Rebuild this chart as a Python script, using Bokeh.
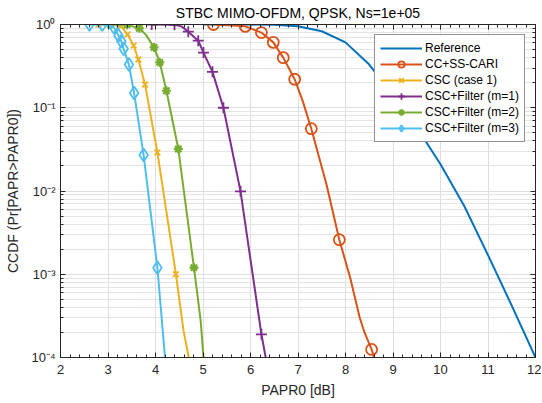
from bokeh.plotting import figure
from bokeh.models import (Range1d, LinearAxis, LogAxis, SingleIntervalTicker, LogTicker,
                          CustomJSTickFormatter)
from bokeh.embed import file_html
from bokeh.resources import INLINE

# ---------------- data ----------------
labels = ["Reference", "CC+SS-CARI", "CSC (case 1)",
          "CSC+Filter (m=1)", "CSC+Filter (m=2)", "CSC+Filter (m=3)"]

# Reference (no markers)
ref_x = [5.0, 5.5, 6.0, 6.5, 7.0, 7.5, 8.0, 8.5, 9.0, 9.5, 10.0, 10.5, 11.0, 11.5, 12.0]
ref_p = [1.0, 1.0, 0.998, 0.99, 0.95, 0.83, 0.61, 0.33, 0.14, 0.058, 0.021, 0.0066, 0.0017, 4.2e-4, 1e-4]

# CC+SS-CARI
cari_x = [5.22, 5.89, 6.23, 6.48, 6.69, 6.93, 7.1, 7.28, 7.6, 7.87, 8.1, 8.3, 8.4, 8.55, 8.6]
cari_p = [1.0, 0.95, 0.80, 0.61, 0.40, 0.22, 0.12, 0.056, 0.012, 0.0026, 9e-4, 3e-4, 2e-4, 1.25e-4, 1e-4]
cari_mx = [5.22, 5.89, 6.23, 6.48, 6.69, 6.93, 7.28, 7.87, 8.55]
cari_mp = [1.0, 0.95, 0.80, 0.61, 0.40, 0.22, 0.056, 0.0026, 1.25e-4]

# CSC (case 1)
csc_x = [2.80, 3.10, 3.28, 3.41, 3.54, 3.64, 3.78, 4.04, 4.43, 4.59, 4.70]
csc_p = [1.0, 0.995, 0.95, 0.76, 0.56, 0.38, 0.19, 0.029, 0.0010, 2.1e-4, 1e-4]
csc_mx = [2.80, 3.28, 3.41, 3.54, 3.64, 3.78, 4.04, 4.43]
csc_mp = [1.0, 0.95, 0.76, 0.56, 0.38, 0.19, 0.029, 0.0010]

# CSC+Filter (m=1)
m1_x = [3.92, 4.40, 4.55, 4.69, 4.90, 5.01, 5.20, 5.43, 5.79, 6.23, 6.32]
m1_p = [1.0, 0.99, 0.95, 0.82, 0.64, 0.46, 0.27, 0.10, 0.0099, 1.9e-4, 1e-4]
m1_mx = [3.92, 4.40, 4.69, 4.90, 5.01, 5.20, 5.43, 5.79, 6.23]
m1_mp = [1.0, 0.99, 0.82, 0.64, 0.46, 0.27, 0.10, 0.0099, 1.9e-4]

# CSC+Filter (m=2)
m2_x = [3.05, 3.40, 3.66, 3.80, 3.97, 4.09, 4.23, 4.48, 4.81, 4.95, 5.01]
m2_p = [1.0, 0.99, 0.90, 0.75, 0.53, 0.35, 0.16, 0.032, 0.0012, 2.8e-4, 1e-4]
m2_mx = [3.05, 3.40, 3.66, 3.97, 4.09, 4.23, 4.48, 4.81]
m2_mp = [1.0, 0.99, 0.90, 0.53, 0.35, 0.16, 0.032, 0.0012]

# CSC+Filter (m=3)
m3_x = [2.61, 2.88, 3.12, 3.22, 3.28, 3.33, 3.44, 3.55, 3.75, 4.04, 4.20]
m3_p = [1.0, 1.0, 0.93, 0.74, 0.63, 0.51, 0.33, 0.15, 0.027, 0.0012, 1e-4]
m3_mx = [2.61, 2.88, 3.12, 3.22, 3.28, 3.33, 3.44, 3.55, 3.75, 4.04]
m3_mp = [1.0, 1.0, 0.93, 0.74, 0.63, 0.51, 0.33, 0.15, 0.027, 0.0012]

title_text = "STBC MIMO-OFDM, QPSK, Ns=1e+05"
xlabel = "PAPR0 [dB]"
ylabel = "CCDF (Pr[PAPR>PAPR0])"

colors = ["#0072BD", "#D95319", "#EDB120", "#7E2F8E", "#77AC30", "#4DBEEE"]
FONT = "Liberation Sans"
AX = "#262626"

# ---------------- figure ----------------
p = figure(frame_width=475, frame_height=333,
           x_range=Range1d(2, 12), y_range=Range1d(1e-4, 1),
           y_axis_type="log", output_backend="svg", toolbar_location=None,
           min_border_left=60, min_border_top=24, min_border_right=6, min_border_bottom=45,
           background_fill_color="white", border_fill_color="white")
p.outline_line_color = AX
p.outline_line_width = 1

p.title.text = title_text
p.title.align = "center"
p.title.text_font = FONT
p.title.text_font_size = "14px"
p.title.text_font_style = "normal"
p.title.text_color = "black"
p.title.standoff = 0

xt = SingleIntervalTicker(interval=1, num_minor_ticks=5)
yt = LogTicker(mantissas=[1], desired_num_ticks=5, num_minor_ticks=10)
p.xaxis.ticker = xt
p.yaxis.ticker = yt

sup_code = """
const sup = {'-':'\u207b','0':'\u2070','1':'\u00b9','2':'\u00b2','3':'\u00b3','4':'\u2074',
             '5':'\u2075','6':'\u2076','7':'\u2077','8':'\u2078','9':'\u2079'};
const e = Math.round(Math.log10(tick));
return '10' + String(e).split('').map(c => sup[c]).join('');
"""
p.yaxis.formatter = CustomJSTickFormatter(code=sup_code)

for ax in [p.xaxis[0], p.yaxis[0]]:
    ax.axis_line_color = AX
    ax.major_tick_line_color = AX
    ax.minor_tick_line_color = AX
    ax.major_tick_in = 5
    ax.major_tick_out = 0
    ax.minor_tick_in = 3
    ax.minor_tick_out = 0
    ax.major_label_text_font = FONT
    ax.major_label_text_font_size = "13px"
    ax.major_label_text_color = AX
    ax.axis_label_text_font = FONT
    ax.axis_label_text_font_size = "14px"
    ax.axis_label_text_font_style = "normal"
    ax.axis_label_text_color = AX

p.xaxis.axis_label = xlabel
p.yaxis.axis_label = ylabel
p.xaxis.major_label_standoff = 7
p.xaxis.axis_label_standoff = 5
p.yaxis.major_label_standoff = 5
p.yaxis.axis_label_standoff = 7

# box axes (top / right) with inward ticks, no labels
blank = CustomJSTickFormatter(code="return ' ';")
top = LinearAxis(ticker=xt, formatter=blank)
right = LogAxis(ticker=yt, formatter=blank)
for ax in [top, right]:
    ax.axis_line_color = AX
    ax.major_tick_line_color = AX
    ax.minor_tick_line_color = AX
    ax.major_tick_in = 5
    ax.major_tick_out = 0
    ax.minor_tick_in = 3
    ax.minor_tick_out = 0
    ax.major_label_text_font_size = "1px"
    ax.major_label_standoff = 0
p.add_layout(top, "above")
p.add_layout(right, "right")

# grid
p.xgrid.grid_line_color = "#dedede"
p.ygrid.grid_line_color = "#dedede"
p.ygrid.minor_grid_line_color = "#e4e4e4"

# ---------------- series ----------------
LW = 2
p.line(ref_x, ref_p, line_color=colors[0], line_width=LW, legend_label=labels[0])

p.line(cari_x, cari_p, line_color=colors[1], line_width=LW, legend_label=labels[1])
p.scatter(cari_mx, cari_mp, marker="circle", size=11, fill_color=None,
          line_color=colors[1], line_width=1.8, legend_label=labels[1])

p.line(csc_x, csc_p, line_color=colors[2], line_width=LW, legend_label=labels[2])
p.scatter(csc_mx, csc_mp, marker="x", size=8, line_color=colors[2],
          line_width=1.8, legend_label=labels[2])

p.line(m1_x, m1_p, line_color=colors[3], line_width=LW, legend_label=labels[3])
p.scatter(m1_mx, m1_mp, marker="cross", size=11, line_color=colors[3],
          line_width=1.8, legend_label=labels[3])

p.line(m2_x, m2_p, line_color=colors[4], line_width=LW, legend_label=labels[4])
p.scatter(m2_mx, m2_mp, marker="asterisk", size=9, line_color=colors[4],
          line_width=2.2, legend_label=labels[4])

p.line(m3_x, m3_p, line_color=colors[5], line_width=LW, legend_label=labels[5])
p.scatter(m3_mx, m3_mp, marker="diamond", size=13, fill_color=None,
          line_color=colors[5], line_width=1.8, legend_label=labels[5])

# ---------------- legend ----------------
lg = p.legend[0]
lg.location = "top_right"
lg.margin = 10
lg.padding = 5
lg.spacing = 0
lg.glyph_width = 42
lg.glyph_height = 16
lg.label_height = 16
lg.label_standoff = 3
lg.label_text_font = FONT
lg.label_text_font_size = "12px"
lg.label_text_color = "black"
lg.border_line_color = AX
lg.border_line_width = 1
lg.background_fill_color = "white"
lg.background_fill_alpha = 1

open("out.html", "w").write(file_html(p, INLINE))
